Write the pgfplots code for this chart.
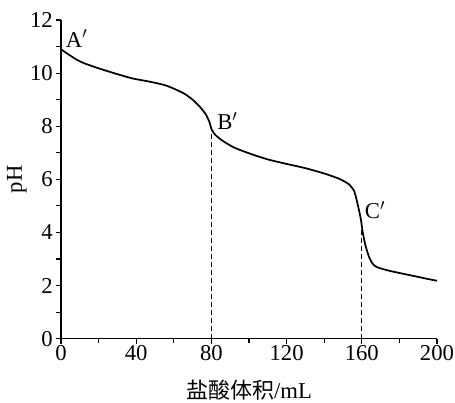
\documentclass[border=0pt]{standalone}
\usepackage{fontspec}
\setmainfont{Liberation Serif}
\newfontfamily\cjk{Noto Sans CJK SC}
\usepackage{pgfplots}
\pgfplotsset{compat=1.18}
\begin{document}
\fontsize{17}{19}\selectfont
\begin{tikzpicture}
\useasboundingbox (-45.75pt,-48pt) rectangle (295.5pt,254pt);
\begin{axis}[
  scale only axis,
  width=282pt, height=239pt,
  xmin=0, xmax=200, ymin=0, ymax=12,
  axis x line=bottom, axis y line=left,
  axis line style={line width=1pt,-},
  xtick={0,40,80,120,160,200},
  ytick={0,2,4,6,8,10,12},
  minor xtick={20,60,100,140,180},
  minor ytick={1,3,5,7,9,11},
  tick align=outside,
  major tick length=4pt, minor tick length=3.5pt,
  tick style={line width=0.9pt,black},
  /pgf/number format/assume math mode=true,
  ticklabel style={font=\fontsize{17}{19}\selectfont},
  xticklabel style={inner sep=1pt},
  yticklabel style={inner sep=2pt},
  xlabel={{\cjk\fontsize{16.5}{18}\selectfont 盐酸体积}/mL},
  ylabel={pH},
  label style={font=\fontsize{17}{19}\selectfont},
  xlabel style={at={(axis description cs:0.5,-0.1287)}, anchor=north, inner sep=0pt},
  ylabel style={at={(axis description cs:-0.0904,0.5)}, anchor=south, inner sep=0pt},
  clip=false,
]
\addplot[black, line width=1.3pt, smooth, tension=0.4] coordinates {
(0,10.9)(3,10.75)(8,10.52)(12,10.38)(20,10.18)(30,9.96)(38,9.8)(47,9.68)(56,9.53)(65,9.25)(70,9.0)(74,8.72)(77,8.45)(79,8.15)(80,7.9)(82,7.68)(86,7.45)(92,7.2)(100,6.98)(110,6.75)(120,6.58)(130,6.42)(140,6.22)(148,6.02)(153,5.82)(156,5.55)(158,5.0)(159.5,4.5)(160.5,4.0)(162,3.5)(164,3.05)(166,2.8)(168.5,2.68)(175,2.55)(185,2.4)(195,2.25)(200,2.18)
};
\addplot[black, line width=0.9pt, dash pattern=on 3.5pt off 2.5pt] coordinates {(80,0)(80,7.9)};
\addplot[black, line width=0.9pt, dash pattern=on 3.5pt off 2.5pt] coordinates {(160,0)(160,4.15)};
\node[anchor=west, inner sep=0pt] at (axis cs:2.5,11.3) {A$'$};
\node[anchor=west, inner sep=0pt] at (axis cs:83,8.2) {B$'$};
\node[anchor=west, inner sep=0pt] at (axis cs:161.5,4.85) {C$'$};
\end{axis}
\end{tikzpicture}
\end{document}
